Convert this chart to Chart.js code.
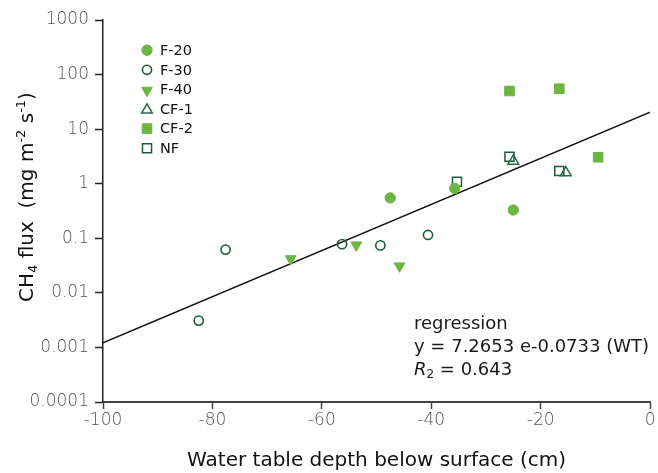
<!DOCTYPE html>
<html>
<head>
<meta charset="utf-8">
<script src="https://cdn.jsdelivr.net/npm/chart.js@4"></script>
<style>
  body { margin: 0; background: #fff; }
  #wrap { width: 658px; height: 473px; }
</style>
</head>
<body>
<div id="wrap"><canvas id="grafico" width="658" height="473"></canvas></div>
<script>
// valores (x = profundidade do lençol, y = fluxo de CH4)
const nomesSeries = ['F-20', 'F-30', 'F-40', 'CF-1', 'CF-2', 'NF'];

const f20X = [-47.5, -35.7, -25.0];
const f20Y = [0.55, 0.82, 0.33];

const f30X = [-82.5, -77.6, -56.3, -49.3, -40.6];
const f30Y = [0.0031, 0.062, 0.078, 0.074, 0.115];

const f40X = [-65.7, -53.7, -45.8];
const f40Y = [0.042, 0.075, 0.031];

const cf1X = [-25.0, -15.4];
const cf1Y = [2.6, 1.59];

const cf2X = [-25.7, -16.6, -9.5];
const cf2Y = [50, 55, 3.05];

const nfX = [-35.3, -25.7, -16.6];
const nfY = [1.09, 3.12, 1.71];

// reta de regressão (extremos)
const regX = [-100, 0];
const regY = [0.00122, 20.5];

const xTicks = [-100, -80, -60, -40, -20, 0];
const yTicks = [0.0001, 0.001, 0.01, 0.1, 1, 10, 100, 1000];

const textoRegressao = ['regression', 'y = 7.2653 e-0.0733 (WT)'];
const textoR2 = '0.643';

const verdeClaro = '#6fb543';
const verdeEscuro = '#1b5e3a';

const pares = (xs, ys) => xs.map((x, i) => ({ x: x, y: ys[i] }));

const estilos = [
  { pointStyle: 'circle', radius: 5.2, fill: verdeClaro, border: verdeClaro, rot: 0, bw: 1 },
  { pointStyle: 'circle', radius: 4.6, fill: 'rgba(0,0,0,0)', border: verdeEscuro, rot: 0, bw: 1.6 },
  { pointStyle: 'triangle', radius: 6.3, fill: verdeClaro, border: verdeClaro, rot: 180, bw: 1 },
  { pointStyle: 'triangle', radius: 6.2, fill: 'rgba(0,0,0,0)', border: '#2a6a4a', rot: 0, bw: 1.5 },
  { pointStyle: 'rect', radius: 6.8, fill: verdeClaro, border: verdeClaro, rot: 0, bw: 1 },
  { pointStyle: 'rect', radius: 6.4, fill: 'rgba(0,0,0,0)', border: verdeEscuro, rot: 0, bw: 1.5 }
];

const dadosSeries = [
  pares(f20X, f20Y), pares(f30X, f30Y), pares(f40X, f40Y),
  pares(cf1X, cf1Y), pares(cf2X, cf2Y), pares(nfX, nfY)
];

let datasets = [{
  type: 'line',
  label: 'regression',
  data: pares(regX, regY),
  borderColor: '#111',
  borderWidth: 1.5,
  pointRadius: 0,
  fill: false,
  order: 10
}];

dadosSeries.forEach((d, i) => {
  let e = estilos[i];
  datasets.push({
    type: 'scatter',
    label: nomesSeries[i],
    data: d,
    pointStyle: e.pointStyle,
    pointRadius: e.radius,
    pointHoverRadius: e.radius,
    pointRotation: e.rot,
    backgroundColor: e.fill,
    borderColor: e.border,
    borderWidth: e.bw,
    order: i
  });
});

const fonteTick = { family: 'DejaVu Sans', size: 17, weight: 200 };

// legenda, título do eixo y e texto da regressão
const extras = {
  id: 'extras',
  afterDraw(chart) {
    let ctx = chart.ctx;
    ctx.save();

    // legenda
    let y0 = 50.2;
    let passo = 19.6;
    ctx.font = '14.5px "DejaVu Sans"';
    ctx.fillStyle = '#111';
    ctx.textBaseline = 'middle';
    nomesSeries.forEach((nome, i) => {
      let e = estilos[i];
      let y = y0 + i * passo;
      ctx.fillStyle = e.fill;
      ctx.strokeStyle = e.border;
      ctx.lineWidth = e.bw;
      Chart.helpers.drawPoint(ctx, {
        pointStyle: e.pointStyle,
        radius: e.radius,
        rotation: e.rot,
        borderWidth: e.bw
      }, 147, y + (e.pointStyle === 'triangle' ? 1 : 0));
      ctx.fillStyle = '#111';
      ctx.fillText(nome, 160, y + 1);
    });

    // título do eixo y com sub/sobrescritos
    let partes = [
      { t: 'CH', s: 20, dy: 0 },
      { t: '4', s: 13, dy: 4 },
      { t: ' flux  (mg m', s: 20, dy: 0 },
      { t: '-2', s: 13, dy: -8 },
      { t: ' s', s: 20, dy: 0 },
      { t: '-1', s: 13, dy: -8 },
      { t: ')', s: 20, dy: 0 }
    ];
    let largura = 0;
    partes.forEach(p => {
      ctx.font = p.s + 'px "DejaVu Sans"';
      p.w = ctx.measureText(p.t).width;
      largura += p.w;
    });
    ctx.translate(33, 197);
    ctx.rotate(-Math.PI / 2);
    ctx.textBaseline = 'alphabetic';
    ctx.fillStyle = '#111';
    let cx = -largura / 2;
    partes.forEach(p => {
      ctx.font = p.s + 'px "DejaVu Sans"';
      ctx.fillText(p.t, cx, p.dy);
      cx += p.w;
    });
    ctx.setTransform(1, 0, 0, 1, 0, 0);

    // texto da regressão
    ctx.fillStyle = '#1a1a1a';
    ctx.font = '18px "DejaVu Sans"';
    ctx.fillText(textoRegressao[0], 414, 329);
    ctx.fillText(textoRegressao[1], 414, 352);
    ctx.font = 'italic 18px "DejaVu Sans"';
    ctx.fillText('R', 414, 375);
    let wR = ctx.measureText('R').width;
    ctx.font = '12px "DejaVu Sans"';
    ctx.fillText('2', 414 + wR, 378);
    let w2 = ctx.measureText('2').width;
    ctx.font = '18px "DejaVu Sans"';
    ctx.fillText(' = ' + textoR2, 414 + wR + w2, 375);

    ctx.restore();
  }
};

let ctx = document.getElementById('grafico').getContext('2d');
new Chart(ctx, {
  data: { datasets: datasets },
  options: {
    responsive: false,
    animation: false,
    layout: { padding: { top: 20, right: 7, left: 0, bottom: 0 } },
    plugins: {
      legend: { display: false },
      tooltip: { enabled: false }
    },
    scales: {
      x: {
        type: 'linear',
        min: -100,
        max: 0,
        afterBuildTicks: (scale) => { scale.ticks = xTicks.map(v => ({ value: v })); },
        afterFit: (scale) => { scale.height = 71; },
        ticks: { font: fonteTick, color: '#555', padding: 1, maxRotation: 0 },
        grid: { display: true, drawOnChartArea: false, drawTicks: true, tickLength: 7, color: '#444', tickWidth: 1.5 },
        border: { display: true, color: '#444', width: 2 },
        title: {
          display: true,
          text: 'Water table depth below surface (cm)',
          font: { family: 'DejaVu Sans', size: 20 },
          color: '#111',
          padding: { top: 0, bottom: 0 }
        }
      },
      y: {
        type: 'logarithmic',
        min: 0.0001,
        max: 1000,
        afterBuildTicks: (scale) => { scale.ticks = yTicks.map(v => ({ value: v })); },
        afterFit: (scale) => { scale.width = 103; },
        ticks: {
          font: fonteTick,
          color: '#555',
          padding: 6,
          callback: (v) => String(v)
        },
        grid: { display: true, drawOnChartArea: false, drawTicks: true, tickLength: 8, color: '#222', tickWidth: 1.5 },
        border: { display: true, color: '#222', width: 1.5 }
      }
    }
  },
  plugins: [extras]
});
</script>
</body>
</html>
